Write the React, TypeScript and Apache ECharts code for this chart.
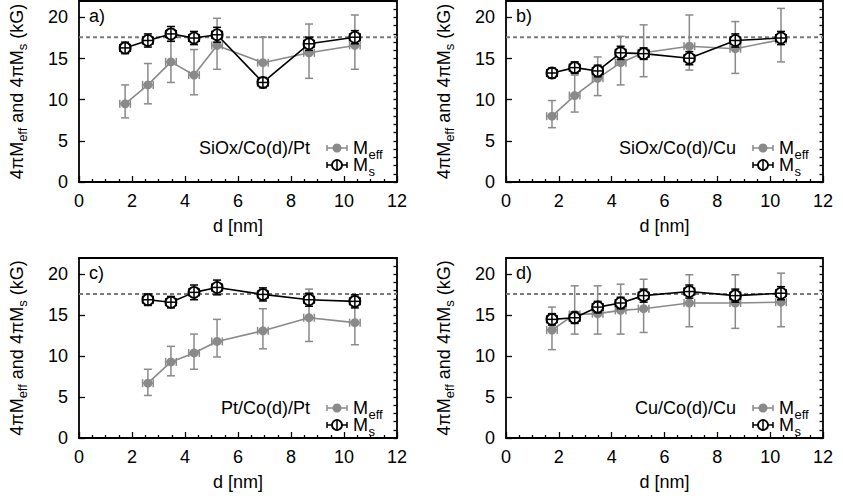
import React, { useEffect, useRef } from 'react';
import * as echarts from 'echarts';

// ---- data ----
const dFull = [1.74, 2.6, 3.47, 4.34, 5.21, 6.94, 8.68, 10.41];
const dPt = [2.6, 3.47, 4.34, 5.21, 6.94, 8.68, 10.41];
const msBulk = 17.6;
const dErr = 0.2;
const xTickLabels = [0, 2, 4, 6, 8, 10, 12];
const yTickLabels = [0, 5, 10, 15, 20];

// a) SiOx/Co(d)/Pt
const meffA = [9.5, 11.8, 14.6, 13.0, 16.6, 14.5, 15.7, 16.6];
const meffALo = [7.8, 9.5, 12.1, 10.6, 13.7, 11.4, 12.6, 13.7];
const meffAHi = [11.8, 14.4, 17.1, 16.1, 19.9, 17.6, 19.2, 20.3];
const msA = [16.3, 17.2, 18.0, 17.5, 17.9, 12.1, 16.8, 17.6];
const msAErr = [0.7, 0.8, 0.9, 0.8, 0.9, 0.6, 0.8, 0.8];

// b) SiOx/Co(d)/Cu
const meffB = [8.0, 10.5, 12.6, 14.5, 15.7, 16.5, 16.2, 17.3];
const meffBLo = [6.6, 8.5, 10.5, 11.8, 12.8, 13.6, 13.2, 14.6];
const meffBHi = [9.9, 13.0, 15.2, 17.7, 19.1, 20.3, 19.5, 21.1];
const msB = [13.25, 13.9, 13.5, 15.7, 15.6, 15.05, 17.2, 17.5];
const msBErr = [0.6, 0.7, 0.7, 0.8, 0.7, 0.8, 0.8, 0.8];

// c) Pt/Co(d)/Pt
const meffC = [6.7, 9.3, 10.4, 11.8, 13.1, 14.7, 14.1];
const meffCLo = [5.2, 7.6, 8.4, 9.9, 10.9, 11.8, 11.4];
const meffCHi = [8.4, 11.2, 12.7, 14.5, 15.8, 18.2, 16.7];
const msC = [16.9, 16.6, 17.8, 18.4, 17.55, 16.9, 16.7];
const msCErr = [0.7, 0.7, 0.9, 0.9, 0.8, 0.8, 0.8];

// d) Cu/Co(d)/Cu
const meffD = [13.2, 15.1, 15.2, 15.6, 15.8, 16.5, 16.5, 16.6];
const meffDLo = [10.8, 12.7, 12.7, 12.7, 12.9, 13.6, 13.4, 13.6];
const meffDHi = [16.0, 18.6, 18.6, 18.8, 19.4, 19.95, 19.95, 20.15];
const msD = [14.5, 14.7, 16.0, 16.5, 17.4, 17.9, 17.4, 17.7];
const msDErr = [0.7, 0.7, 0.7, 0.7, 0.8, 0.8, 0.8, 0.8];

const panelLetters = ['a)', 'b)', 'c)', 'd)'];
const panelNames = ['SiOx/Co(d)/Pt', 'SiOx/Co(d)/Cu', 'Pt/Co(d)/Pt', 'Cu/Co(d)/Cu'];
const yTitleParts: [string, boolean][] = [['4πM', false], ['eff', true], [' and 4πM', false], ['s', true], [' (kG)', false]];
const panelData = [
  { d: dFull, meff: meffA, lo: meffALo, hi: meffAHi, ms: msA, msErr: msAErr },
  { d: dFull, meff: meffB, lo: meffBLo, hi: meffBHi, ms: msB, msErr: msBErr },
  { d: dPt, meff: meffC, lo: meffCLo, hi: meffCHi, ms: msC, msErr: msCErr },
  { d: dFull, meff: meffD, lo: meffDLo, hi: meffDHi, ms: msD, msErr: msDErr },
];

// ---- layout ----
const grids = [
  { left: 79, top: 1, width: 318, height: 181 },
  { left: 506, top: 1, width: 317, height: 181 },
  { left: 79, top: 258, width: 318, height: 180 },
  { left: 506, top: 258, width: 317, height: 180 },
];
const FONT = '"Liberation Sans", Arial, Helvetica, sans-serif';
const GRAY = '#8a8a8a';
const MAIN_SIZE = 18;
const SUB_SIZE = 13;

let measureCtx: CanvasRenderingContext2D | null = null;
function measure(text: string, size: number) {
  if (!measureCtx) measureCtx = document.createElement('canvas').getContext('2d');
  if (!measureCtx) return text.length * size * 0.55;
  measureCtx.font = `${size}px ${FONT}`;
  return measureCtx.measureText(text).width;
}

function makeErrRender(color: string) {
  return (params: any, api: any) => {
    const x = api.value(0);
    const lo = api.value(1);
    const hi = api.value(2);
    const y = api.value(3);
    const top = api.coord([x, hi]);
    const bot = api.coord([x, lo]);
    const l = api.coord([x - dErr, y]);
    const r = api.coord([x + dErr, y]);
    const cw = 4;
    const st = { stroke: color, lineWidth: 1.5, fill: 'none' };
    return {
      type: 'group',
      children: [
        { type: 'line', shape: { x1: top[0], y1: top[1], x2: bot[0], y2: bot[1] }, style: st },
        { type: 'line', shape: { x1: top[0] - cw, y1: top[1], x2: top[0] + cw, y2: top[1] }, style: st },
        { type: 'line', shape: { x1: bot[0] - cw, y1: bot[1], x2: bot[0] + cw, y2: bot[1] }, style: st },
        { type: 'line', shape: { x1: l[0], y1: l[1], x2: r[0], y2: r[1] }, style: st },
        { type: 'line', shape: { x1: l[0], y1: l[1] - cw, x2: l[0], y2: l[1] + cw }, style: st },
        { type: 'line', shape: { x1: r[0], y1: r[1] - cw, x2: r[0], y2: r[1] + cw }, style: st },
      ],
    };
  };
}

function yTitle(cx: number, cy: number) {
  const widths = yTitleParts.map(([t, sub]) => measure(t, sub ? SUB_SIZE : MAIN_SIZE));
  const total = widths.reduce((a, b) => a + b, 0);
  let pos = -total / 2;
  const children: any[] = [];
  yTitleParts.forEach(([t, sub], k) => {
    children.push({
      type: 'text', x: pos, y: sub ? 5 : 0,
      style: {
        text: t, align: 'left', verticalAlign: 'middle',
        fontSize: sub ? SUB_SIZE : MAIN_SIZE, fontFamily: FONT, fill: '#000',
      },
    });
    pos += widths[k];
  });
  return { type: 'group', x: cx, y: cy, rotation: Math.PI / 2, children, z: 100 };
}

function legendGraphics(i: number) {
  const g = grids[i];
  const right = g.left + g.width;
  const isTop = i < 2;
  const row1 = isTop ? 148 : 408;
  const row2 = isTop ? 165 : 425;
  const cx = right - 60;
  const els: any[] = [];
  els.push({
    type: 'text', x: right - 87, y: row1,
    style: { text: panelNames[i], align: 'right', verticalAlign: 'middle', fontSize: MAIN_SIZE, fontFamily: FONT, fill: '#000' },
    z: 100,
  });
  const sym = (y: number, color: string, open: boolean) => {
    const st = { stroke: color, lineWidth: 1.5 };
    els.push({ type: 'line', shape: { x1: cx - 10, y1: y, x2: cx + 10, y2: y }, style: st, z: 100 });
    els.push({ type: 'line', shape: { x1: cx - 10, y1: y - 3, x2: cx - 10, y2: y + 3 }, style: st, z: 100 });
    els.push({ type: 'line', shape: { x1: cx + 10, y1: y - 3, x2: cx + 10, y2: y + 3 }, style: st, z: 100 });
    els.push({
      type: 'circle', shape: { cx, cy: y, r: open ? 5 : 4.5 },
      style: open ? { fill: '#fff', stroke: color, lineWidth: 1.8 } : { fill: color },
      z: 101,
    });
    if (open) {
      els.push({ type: 'line', shape: { x1: cx, y1: y - 5, x2: cx, y2: y + 5 }, style: st, z: 102 });
    }
  };
  sym(row1, GRAY, false);
  sym(row2, '#000', true);
  const mx = right - 44;
  const mw = measure('M', MAIN_SIZE) + 0.5;
  els.push({ type: 'text', x: mx, y: row1, style: { text: 'M', align: 'left', verticalAlign: 'middle', fontSize: MAIN_SIZE, fontFamily: FONT, fill: '#000' }, z: 100 });
  els.push({ type: 'text', x: mx + mw, y: row1 + 6, style: { text: 'eff', align: 'left', verticalAlign: 'middle', fontSize: SUB_SIZE, fontFamily: FONT, fill: '#000' }, z: 100 });
  els.push({ type: 'text', x: mx, y: row2, style: { text: 'M', align: 'left', verticalAlign: 'middle', fontSize: MAIN_SIZE, fontFamily: FONT, fill: '#000' }, z: 100 });
  els.push({ type: 'text', x: mx + mw, y: row2 + 6, style: { text: 's', align: 'left', verticalAlign: 'middle', fontSize: SUB_SIZE, fontFamily: FONT, fill: '#000' }, z: 100 });
  // panel letter
  els.push({
    type: 'text', x: g.left + 10, y: g.top + 15,
    style: { text: panelLetters[i], align: 'left', verticalAlign: 'middle', fontSize: MAIN_SIZE, fontFamily: FONT, fill: '#000' },
    z: 100,
  });
  els.push(yTitle(g.left - 62, g.top + g.height / 2));
  return els;
}

export default function App() {
  const ref = useRef<HTMLDivElement>(null);
  useEffect(() => {
    if (!ref.current) return;
    const chart = echarts.init(ref.current, undefined, { renderer: 'svg' });
    const xAxis: any[] = [];
    const yAxis: any[] = [];
    const series: any[] = [];
    const graphic: any[] = [];
    grids.forEach((g, i) => {
      xAxis.push({
        type: 'value', gridIndex: i, min: xTickLabels[0], max: xTickLabels[xTickLabels.length - 1], interval: 2,
        name: 'd [nm]', nameLocation: 'middle', nameGap: 35,
        nameTextStyle: { fontSize: MAIN_SIZE, fontFamily: FONT, color: '#000' },
        axisLine: { show: false },
        axisTick: { show: true, inside: true, length: 6, lineStyle: { color: '#000', width: 1.3 } },
        minorTick: { show: true, splitNumber: 4, length: 3, lineStyle: { color: '#000', width: 1.3 } },
        axisLabel: { fontSize: MAIN_SIZE, fontFamily: FONT, color: '#000', margin: 10 },
        splitLine: { show: false },
      });
      yAxis.push({
        type: 'value', gridIndex: i, min: yTickLabels[0], max: 22, interval: 5,
        axisLine: { show: false },
        axisTick: { show: true, inside: true, length: 6, lineStyle: { color: '#000', width: 1.3 } },
        axisLabel: { fontSize: MAIN_SIZE, fontFamily: FONT, color: '#000', margin: 11, showMaxLabel: false },
        splitLine: { show: false },
      });
      yAxis.push({
        type: 'value', gridIndex: i, min: 0, max: 22, interval: 1,
        axisLine: { show: false },
        axisTick: { show: true, inside: true, length: 3.5, lineStyle: { color: '#000', width: 1.3 } },
        axisLabel: { show: false },
        splitLine: { show: false },
      });
      const p = panelData[i];
      const xi = i;
      const yi = 2 * i;
      series.push({
        type: 'line', xAxisIndex: xi, yAxisIndex: yi, data: [[0, msBulk], [12, msBulk]],
        symbol: 'none', lineStyle: { color: '#7a7a7a', width: 2, type: [4, 3] }, z: 1, silent: true,
      });
      series.push({
        type: 'custom', xAxisIndex: xi, yAxisIndex: yi,
        data: p.d.map((x, j) => [x, p.lo[j], p.hi[j], p.meff[j]]),
        encode: { x: 0, y: [1, 2] }, renderItem: makeErrRender(GRAY), z: 2,
      });
      series.push({
        type: 'line', xAxisIndex: xi, yAxisIndex: yi, data: p.d.map((x, j) => [x, p.meff[j]]),
        symbol: 'circle', symbolSize: 9, itemStyle: { color: GRAY }, lineStyle: { color: GRAY, width: 1.6 }, z: 3,
      });
      series.push({
        type: 'line', xAxisIndex: xi, yAxisIndex: yi, data: p.d.map((x, j) => [x, p.ms[j]]),
        symbol: 'circle', symbolSize: 11,
        itemStyle: { color: '#fff', borderColor: '#000', borderWidth: 1.8 },
        lineStyle: { color: '#000', width: 1.6 }, z: 4,
      });
      series.push({
        type: 'custom', xAxisIndex: xi, yAxisIndex: yi,
        data: p.d.map((x, j) => [x, p.ms[j] - p.msErr[j], p.ms[j] + p.msErr[j], p.ms[j]]),
        encode: { x: 0, y: [1, 2] }, renderItem: makeErrRender('#000'), z: 5,
      });
      graphic.push(...legendGraphics(i));
    });
    chart.setOption({
      animation: false,
      textStyle: { fontFamily: FONT },
      grid: grids.map((g) => ({ ...g, show: true, borderColor: '#000', borderWidth: 1.8, backgroundColor: 'transparent', containLabel: false })),
      xAxis,
      yAxis,
      series,
      graphic,
    });
    return () => chart.dispose();
  }, []);
  return <div ref={ref} style={{ position: 'fixed', left: 0, top: 0, width: 843, height: 500, background: '#fff' }} />;
}
